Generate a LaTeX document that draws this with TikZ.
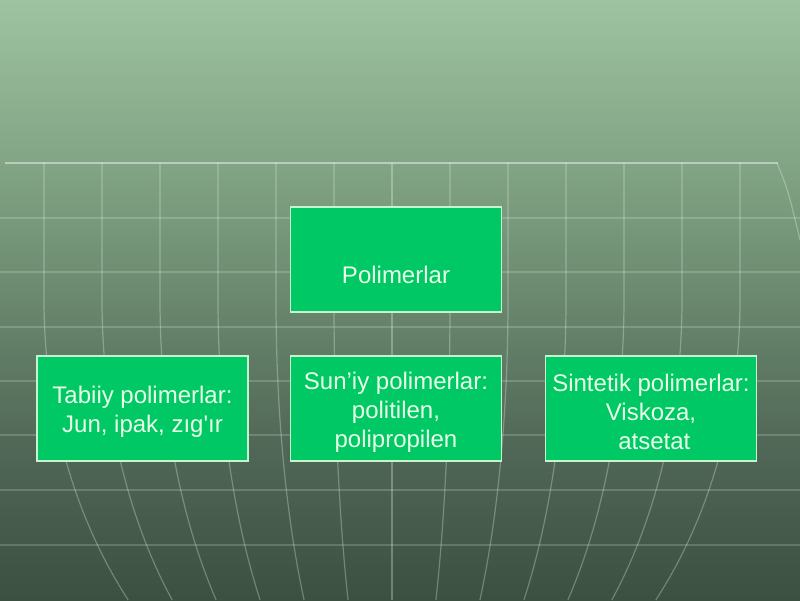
\documentclass[tikz,border=0pt]{standalone}
\usepackage{fontspec}
\newfontfamily\boxfont{Liberation Sans}
\definecolor{ctop}{RGB}{158,195,160}
\definecolor{cthree}{RGB}{132,168,135}
\definecolor{ctwo}{RGB}{106,136,110}
\definecolor{cone}{RGB}{80,102,86}
\definecolor{cbot}{RGB}{60,80,66}
\definecolor{boxfill}{RGB}{0,200,100}
\definecolor{boxedge}{RGB}{196,245,204}
\definecolor{boxtext}{RGB}{232,255,232}
\pgfdeclareverticalshading{bgshade}{100bp}{color(0bp)=(cbot); color(25bp)=(cbot); color(37.5bp)=(cone); color(50bp)=(ctwo); color(62.5bp)=(cthree); color(75bp)=(ctop); color(100bp)=(ctop)}
\tikzset{
  vline/.style={draw=white, opacity=0.28, line width=1.2pt},
  hline/.style={draw=white, opacity=0.18, line width=1.2pt},
  topline/.style={draw=white, opacity=0.45, line width=1.5pt},
  catbox/.style={draw=boxedge, line width=1.4pt, fill=boxfill, minimum width=211pt, minimum height=105pt, inner sep=0pt},
  cattext/.style={inner sep=0pt, align=center, text=boxtext, font=\boxfont\fontsize{24pt}{29pt}\selectfont}
}
\begin{document}
\begin{tikzpicture}[x=1pt,y=-1pt]
\useasboundingbox (0,0) rectangle (800,600);
\shade[shading=bgshade] (0,0) rectangle (800,600);
\begin{scope}
\clip (0,0) rectangle (800,600);
\foreach \k in {-6,...,6}
  \draw[vline] plot[domain=163:600, samples=40, variable=\t] ({392+\k*58*sqrt(1-(max(\t-300,0)/460)^2)}, \t);
\foreach \h in {218,272,327,381,435,490,545}
  \draw[hline] (0,\h) -- (800,\h);
\draw[topline] (5,163) -- (778,163);
\draw[vline] (777,163) .. controls (788,190) .. (800,240);
\end{scope}
\node[catbox] (root) at (396,259.5) {};
\node[catbox] (tabiiy) at (142.5,408.5) {};
\node[catbox] (suniy) at (396,408.5) {};
\node[catbox] (sintetik) at (651,408.5) {};
\node[cattext] (roottext) at ([yshift=-15.5pt]root.center) {Polimerlar};
\node[cattext] (tabiiytext) at ([yshift=-3pt]tabiiy.center) {Tabiiy polimerlar:\\Jun, ipak, zıg'ır};
\node[cattext] (suniytext) at ([yshift=-3.5pt]suniy.center) {Sun’iy polimerlar:\\politilen,\\polipropilen};
\node[cattext] (sintetiktext) at ([yshift=-3.5pt]sintetik.center) {Sintetik polimerlar:\\Viskoza,\\\ atsetat};
\end{tikzpicture}
\end{document}
